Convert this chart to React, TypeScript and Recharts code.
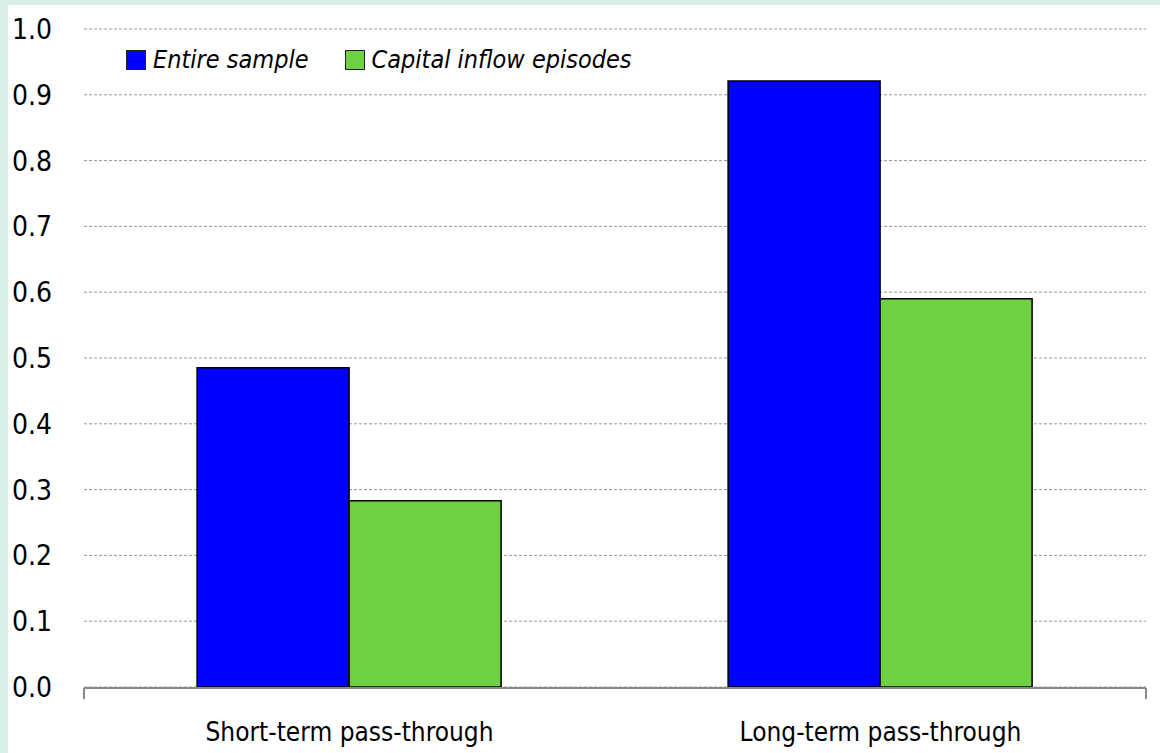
import { BarChart, Bar, XAxis, YAxis, CartesianGrid, Legend } from 'recharts'

const categories = ['Short-term pass-through', 'Long-term pass-through']
const entireSample = [0.485, 0.921]
const capitalInflow = [0.283, 0.59]
const yTicks = [0, 0.1, 0.2, 0.3, 0.4, 0.5, 0.6, 0.7, 0.8, 0.9, 1.0]
const boundaryTicks = [0, 1, 2]

const SERIES = [
  { key: 'entire', name: 'Entire sample', color: '#0000ff' },
  { key: 'inflow', name: 'Capital inflow episodes', color: '#6dd142' },
]

const FONT = "'Liberation Sans Narrow', 'DejaVu Sans Condensed', 'Arial Narrow', sans-serif"

const data = categories.map((c, i) => ({
  name: c,
  entire: entireSample[i],
  inflow: capitalInflow[i],
}))

function LegendContent() {
  return (
    <div style={{ display: 'flex', alignItems: 'center', gap: 36, fontFamily: FONT, fontStyle: 'italic', fontSize: 25, color: '#000' }}>
      {SERIES.map((s) => (
        <span key={s.key} style={{ display: 'inline-flex', alignItems: 'center', gap: 7 }}>
          <span style={{ width: 18, height: 18, background: s.color, border: '1px solid #222', display: 'inline-block' }} />
          {s.name}
        </span>
      ))}
    </div>
  )
}

// boundary axis only draws the tick marks, no labels
const NoLabel = () => <g />

export default function App() {
  return (
    <div style={{ position: 'fixed', left: 0, top: 0, width: 1160, height: 753, background: '#d9efe7' }}>
      <div style={{ position: 'absolute', left: 8, top: 5, width: 1152, height: 748, background: '#fff' }}>
        <BarChart
          width={1152}
          height={748}
          data={data}
          margin={{ top: 24, right: 14, left: 0, bottom: 64 }}
          barCategoryGap="21.3%"
          barGap={0}
        >
          <CartesianGrid vertical={false} stroke="#999" strokeDasharray="3 2" />
          <XAxis
            xAxisId="edge"
            type="number"
            domain={[0, 2]}
            ticks={boundaryTicks}
            interval={0}
            height={1}
            tick={NoLabel}
            tickSize={11}
            axisLine={{ stroke: '#888', strokeWidth: 2 }}
            tickLine={{ stroke: '#888', strokeWidth: 2 }}
          />
          <XAxis
            dataKey="name"
            height={1}
            axisLine={false}
            tickLine={false}
            tickMargin={30}
            tick={{ fill: '#000', fontSize: 26, fontFamily: FONT }}
          />
          <YAxis
            width={76}
            domain={[0, 1]}
            ticks={yTicks}
            axisLine={false}
            tickLine={false}
            tickMargin={26}
            tickFormatter={(v: number) => v.toFixed(1)}
            tick={{ fill: '#000', fontSize: 28, fontFamily: FONT }}
          />
          <Legend
            layout="horizontal"
            verticalAlign="middle"
            align="center"
            wrapperStyle={{ top: 40, left: 118, width: 'auto' }}
            content={<LegendContent />}
          />
          {SERIES.map((s) => (
            <Bar
              key={s.key}
              dataKey={s.key}
              name={s.name}
              fill={s.color}
              stroke="#000"
              strokeWidth={1.5}
              isAnimationActive={false}
            />
          ))}
        </BarChart>
      </div>
    </div>
  )
}
